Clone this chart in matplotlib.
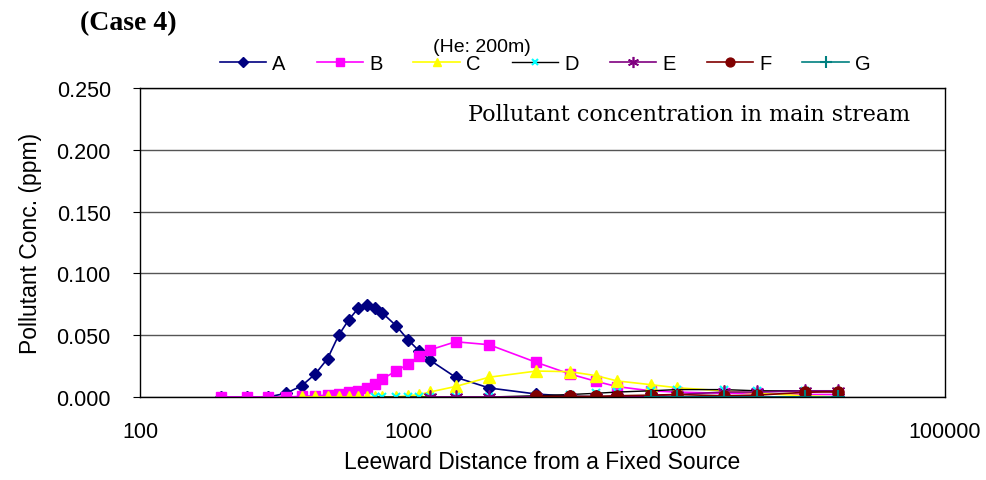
import matplotlib
matplotlib.use("Agg")
import matplotlib.pyplot as plt

# leeward distance (m) and concentration (ppm) per stability class
x_all = [200, 250, 300, 350, 400, 450, 500, 550, 600, 650, 700, 750, 800, 900,
         1000, 1100, 1200, 1500, 2000, 3000, 4000, 5000, 6000, 8000, 10000,
         15000, 20000, 30000, 40000]

a_y = [0.0, 0.0, 0.0, 0.003, 0.009, 0.0186, 0.031, 0.050, 0.0625, 0.0717, 0.0744,
       0.0717, 0.068, 0.0577, 0.046, 0.037, 0.030, 0.016, 0.0073, 0.0024, 0.0006,
       0.0003, 0.0002, 0.0, 0.0, 0.0, 0.0, 0.0, 0.0]
b_y = [0.0, 0.0, 0.0, 0.0, 0.0005, 0.001, 0.0015, 0.0024, 0.0038, 0.005, 0.0073,
       0.0108, 0.0146, 0.021, 0.0267, 0.0334, 0.038, 0.0447, 0.0423, 0.028, 0.0186,
       0.0127, 0.0084, 0.005, 0.004, 0.003, 0.003, 0.002, 0.002]

c_x = x_all[4:]
c_y = [0.0, 0.0, 0.0, 0.0, 0.0, 0.0, 0.0, 0.0, 0.0, 0.0, 0.001, 0.002, 0.004,
       0.0085, 0.016, 0.021, 0.0205, 0.0173, 0.013, 0.010, 0.0075, 0.005, 0.003,
       0.001, 0.0]

d_x = x_all[11:]
d_y = [0.0, 0.0, 0.0, 0.0, 0.0, 0.0, 0.0, 0.0, 0.001, 0.002, 0.003, 0.004, 0.005,
       0.006, 0.006, 0.005, 0.005, 0.004]

e_x = x_all[16:]
e_y = [0.0, 0.0, 0.0, 0.0, 0.0, 0.0, 0.0, 0.001, 0.002, 0.004, 0.004, 0.005, 0.005]

f_x = x_all[19:]
f_y = [0.0005, 0.0005, 0.0005, 0.001, 0.0015, 0.002, 0.001, 0.0015, 0.0038, 0.0043]

g_x = x_all[23:]
g_y = [0.0, 0.0, 0.0, 0.0, 0.0, 0.0]

y_ticks = [0.0, 0.05, 0.10, 0.15, 0.20, 0.25]
x_ticks = [100, 1000, 10000, 100000]

plt.rcParams['font.family'] = ['Liberation Sans', 'DejaVu Sans']

fig = plt.figure(figsize=(9.87, 4.81), dpi=100)
ax = fig.add_axes([140 / 987, 1 - 398 / 481, 805 / 987, 309 / 481])

asterisk = (6, 2, 0)
ax.plot(x_all, a_y, color='#000080', marker='D', ms=6.5, lw=1.2, label='A')
ax.plot(x_all, b_y, color='#FF00FF', marker='s', ms=7, lw=1.2, label='B')
ax.plot(c_x, c_y, color='#FFFF00', marker='^', ms=8, lw=1.2, label='C')
ax.plot(d_x, d_y, color='black', marker='x', ms=6, mec='#00FFFF', mew=1.5, lw=1.0, label='D')
ax.plot(e_x, e_y, color='#800080', marker=asterisk, ms=10, mew=1.2, lw=1.2, label='E')
ax.plot(f_x, f_y, color='#800000', marker='o', ms=8, lw=1.2, label='F')
ax.plot(g_x, g_y, color='#008080', marker='+', ms=10, mew=1.5, lw=1.2, label='G')

ax.set_xscale('log')
ax.set_xlim(100, 100000)
ax.set_ylim(0, 0.25)
ax.set_xticks(x_ticks)
ax.set_xticklabels([str(v) for v in x_ticks])
ax.minorticks_off()
ax.set_yticks(y_ticks)
ax.set_yticklabels(['%.3f' % v for v in y_ticks])
ax.tick_params(axis='x', length=0, labelsize=15.5, pad=17)
ax.tick_params(axis='y', direction='out', length=5, labelsize=15.5, pad=16)
ax.yaxis.grid(True, color='#555555', lw=1.0)
ax.set_axisbelow(True)
for s in ax.spines.values():
    s.set_color('black')
    s.set_linewidth(1.0)

ax.set_xlabel('Leeward Distance from a Fixed Source', fontsize=16.5, labelpad=6)
ax.set_ylabel('Pollutant Conc. (ppm)', fontsize=16.5, labelpad=10)

ax.text(0.957, 0.915, 'Pollutant concentration in main stream', transform=ax.transAxes,
        ha='right', va='center', fontsize=16, family='DejaVu Serif')

fig.text(80 / 987, 1 - 24 / 481, '(Case 4)', fontsize=20, fontweight='bold',
         family='Liberation Serif', ha='left', va='center')
fig.text(482 / 987, 1 - 47 / 481, '(He: 200m)', fontsize=14, ha='center', va='center')

fig.legend(loc='center', bbox_to_anchor=(545 / 987, 1 - 65 / 481), ncol=7, frameon=False,
           fontsize=14.5, handlelength=2.3, columnspacing=1.55, handletextpad=0.3,
           markerscale=0.8, borderpad=0.1)

fig.savefig('out.png', dpi=100)
